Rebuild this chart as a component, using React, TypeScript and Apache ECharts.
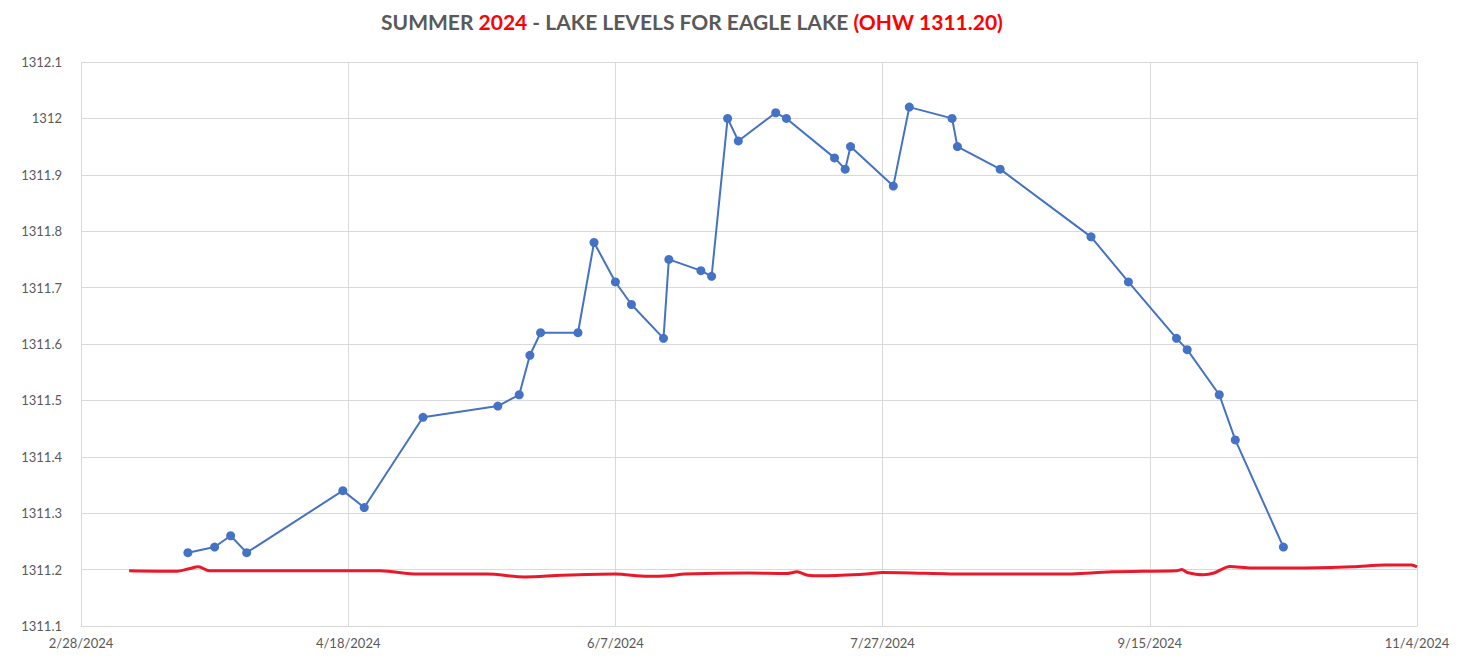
import React, { useEffect, useRef } from "react";
import * as echarts from "echarts";

const titleParts = ["SUMMER ", "2024", " - LAKE LEVELS FOR EAGLE LAKE ", "(OHW 1311.20)"];

const levelDates = [
  "2024-03-19", "2024-03-24", "2024-03-27", "2024-03-30", "2024-04-17", "2024-04-21",
  "2024-05-02", "2024-05-16", "2024-05-20", "2024-05-22", "2024-05-24", "2024-05-31",
  "2024-06-03", "2024-06-07", "2024-06-10", "2024-06-16", "2024-06-17", "2024-06-23",
  "2024-06-25", "2024-06-28", "2024-06-30", "2024-07-07", "2024-07-09", "2024-07-18",
  "2024-07-20", "2024-07-21", "2024-07-29", "2024-08-01", "2024-08-09", "2024-08-10",
  "2024-08-18", "2024-09-04", "2024-09-11", "2024-09-20", "2024-09-22", "2024-09-28",
  "2024-10-01", "2024-10-10",
];
const levelValues = [
  1311.23, 1311.24, 1311.26, 1311.23, 1311.34, 1311.31,
  1311.47, 1311.49, 1311.51, 1311.58, 1311.62, 1311.62,
  1311.78, 1311.71, 1311.67, 1311.61, 1311.75, 1311.73,
  1311.72, 1312.0, 1311.96, 1312.01, 1312.0, 1311.93,
  1311.91, 1311.95, 1311.88, 1312.02, 1312.0, 1311.95,
  1311.91, 1311.79, 1311.71, 1311.61, 1311.59, 1311.51,
  1311.43, 1311.24,
];

const ohwDates = [
  "2024-03-08", "2024-03-17", "2024-03-19", "2024-03-21", "2024-03-23", "2024-03-29",
  "2024-04-24", "2024-05-01", "2024-05-14", "2024-05-21", "2024-05-28", "2024-06-07",
  "2024-06-13", "2024-06-17", "2024-06-20", "2024-07-02", "2024-07-09", "2024-07-11",
  "2024-07-13", "2024-07-16", "2024-07-24", "2024-07-27", "2024-08-12", "2024-08-29",
  "2024-09-08", "2024-09-20", "2024-09-21", "2024-09-22", "2024-09-25", "2024-09-27",
  "2024-09-30", "2024-10-04", "2024-10-14", "2024-10-23", "2024-10-29", "2024-11-03",
  "2024-11-04",
];
const ohwValues = [
  1311.198, 1311.197, 1311.201, 1311.205, 1311.198, 1311.198,
  1311.198, 1311.192, 1311.192, 1311.187, 1311.19, 1311.192,
  1311.188, 1311.189, 1311.192, 1311.194, 1311.193, 1311.196,
  1311.19, 1311.189, 1311.192, 1311.195, 1311.192, 1311.192,
  1311.196, 1311.198, 1311.2, 1311.195, 1311.191, 1311.194,
  1311.2055, 1311.203, 1311.203, 1311.205, 1311.208, 1311.208,
  1311.205,
];

const xStart = "2024-02-28";
const xEnd = "2024-11-04";
const xStepDays = 50;
const yMin = 1311.1;
const yMax = 1312.1;
const yStep = 0.1;

const DAY = 86400000;
const toUTC = (s: string) => {
  const [y, m, d] = s.split("-").map(Number);
  return Date.UTC(y, m - 1, d);
};
const base = toUTC(xStart);
const dayOf = (s: string) => Math.round((toUTC(s) - base) / DAY);
const labelOf = (days: number) => {
  const d = new Date(base + days * DAY);
  return `${d.getUTCMonth() + 1}/${d.getUTCDate()}/${d.getUTCFullYear()}`;
};

export default function App() {
  const ref = useRef<HTMLDivElement>(null);
  useEffect(() => {
    if (!ref.current) return;
    const chart = echarts.init(ref.current, undefined, { renderer: "svg" });
    const font = "Lato, 'Noto Sans', sans-serif";
    chart.setOption({
      animation: false,
      backgroundColor: "#ffffff",
      title: {
        text: `{g|${titleParts[0]}}{r|${titleParts[1]}}{g|${titleParts[2]}}{r|${titleParts[3]}}`,
        left: 687,
        top: 6,
        textAlign: "center",
        textStyle: {
          rich: {
            g: { fontFamily: font, fontSize: 21, fontWeight: "bold", color: "#595959" },
            r: { fontFamily: font, fontSize: 21, fontWeight: "bold", color: "#ff0000" },
          },
        },
      },
      grid: { left: 81, right: 51, top: 62, bottom: 34, containLabel: false },
      xAxis: {
        type: "value",
        min: 0,
        max: dayOf(xEnd),
        interval: xStepDays,
        axisLine: { show: true, lineStyle: { color: "#d9d9d9", width: 1 } },
        axisTick: { show: false },
        splitLine: { show: true, lineStyle: { color: "#d9d9d9", width: 1 } },
        axisLabel: {
          formatter: (v: number) => labelOf(v),
          color: "#595959",
          fontFamily: font,
          fontSize: 13,
          margin: 10,
        },
      },
      yAxis: {
        type: "value",
        min: yMin,
        max: yMax,
        interval: yStep,
        axisLine: { show: false },
        axisTick: { show: false },
        splitLine: { show: true, lineStyle: { color: "#d9d9d9", width: 1 } },
        axisLabel: {
          formatter: (v: number) => String(Number(v.toFixed(1))),
          color: "#595959",
          fontFamily: font,
          fontSize: 13,
          margin: 19,
        },
      },
      series: [
        {
          type: "line",
          data: ohwDates.map((d, i) => [dayOf(d), ohwValues[i]]),
          showSymbol: false,
          smooth: 0.3,
          lineStyle: { color: "#e8192c", width: 3 },
          z: 2,
        },
        {
          type: "line",
          data: levelDates.map((d, i) => [dayOf(d), levelValues[i]]),
          symbol: "circle",
          symbolSize: 9,
          itemStyle: { color: "#4472c4" },
          lineStyle: { color: "#4472c4", width: 2 },
          z: 3,
        },
      ],
    });
    return () => chart.dispose();
  }, []);
  return (
    <div
      ref={ref}
      style={{ position: "fixed", left: 0, top: 0, width: 1468, height: 660 }}
    />
  );
}
